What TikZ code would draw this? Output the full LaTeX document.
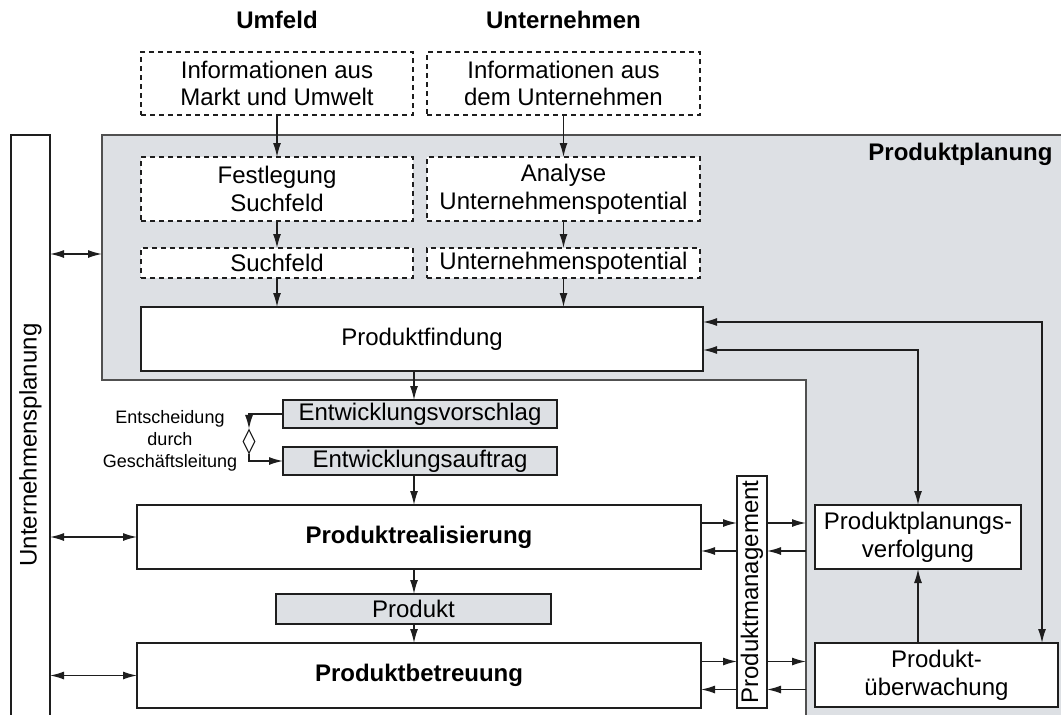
\documentclass[tikz,border=0pt]{standalone}
\usepackage{fontspec}
\setmainfont{Liberation Sans}
\usetikzlibrary{arrows.meta,shapes.geometric}

\definecolor{plangray}{RGB}{221,224,228}
\definecolor{linie}{RGB}{30,30,30}
\definecolor{randgrau}{RGB}{80,80,80}

\tikzset{
  box/.style={draw=linie, line width=1.4pt, fill=white, inner sep=0pt, outer sep=0pt,
    align=center, font=\fontsize{24}{27.7}\selectfont},
  strichbox/.style={box, dash pattern=on 5pt off 4pt},
  graubox/.style={box, fill=plangray},
  fett/.style={box, font=\bfseries\fontsize{24}{27.7}\selectfont},
  titel/.style={font=\bfseries\fontsize{24}{27.7}\selectfont},
  notiz/.style={align=center, font=\fontsize{18}{22}\selectfont},
  arr/.style={draw=linie, line width=1.4pt, -{Latex[length=14pt,width=8pt]}},
  dblarr/.style={draw=linie, line width=1.4pt, {Latex[length=14pt,width=8pt]}-{Latex[length=14pt,width=8pt]}},
}

\begin{document}
\begin{tikzpicture}[x=1pt,y=-1pt]
  \useasboundingbox (0,0) rectangle (1061,715);

  % grey area of the product planning
  \filldraw[fill=plangray, draw=randgrau, line width=1.4pt]
    (102,135) -- (1075,135) -- (1075,730) -- (806,730) -- (806,380) -- (102,380) -- cycle;
  \node[titel, anchor=east] (planung) at (1056,154) {Produktplanung};

  % Unternehmensplanung column
  \node[box, minimum width=39, minimum height=600] (uplan) at (30.5,435) {};
  \node[rotate=90, font=\fontsize{24}{27.7}\selectfont] (uplantext) at (30.5,445) {Unternehmensplanung};

  % column heads
  \node[titel] (umfeld) at (277,20) {Umfeld};
  \node[titel] (unternehmen) at (563.5,20) {Unternehmen};

  % information and search field
  \node[strichbox, minimum width=272, minimum height=63] (infoM) at (277,83.5) {Informationen aus\\Markt und Umwelt};
  \node[strichbox, minimum width=273, minimum height=63] (infoU) at (563.5,83.5) {Informationen aus\\dem Unternehmen};
  \node[strichbox, minimum width=272, minimum height=64] (festl) at (277,189) {Festlegung\\Suchfeld};
  \node[strichbox, minimum width=273, minimum height=64] (analyse) at (563.5,189) {Analyse\\Unternehmenspotential};
  \node[strichbox, minimum width=272, minimum height=30] (suchfeld) at (277,263) {Suchfeld};
  \node[strichbox, minimum width=273, minimum height=30] (potential) at (563.5,263) {Unternehmenspotential};
  \node[box, minimum width=562, minimum height=64] (findung) at (422,339) {Produktfindung};

  % development
  \node[graubox, minimum width=274, minimum height=28] (vorschlag) at (420,414) {Entwicklungsvorschlag};
  \node[graubox, minimum width=274, minimum height=28] (auftrag) at (420,461) {Entwicklungsauftrag};
  \node[diamond, draw=linie, line width=1.1pt, fill=white, inner sep=0pt,
    minimum width=12, minimum height=24] (raute) at (249,441.5) {};
  \node[notiz] (entscheidung) at (170,441) {Entscheidung\\durch\\Geschäftsleitung};

  % realisation and support
  \node[fett, minimum width=564, minimum height=64] (realis) at (419,537) {Produktrealisierung};
  \node[graubox, minimum width=275, minimum height=30] (produkt) at (413.5,609) {Produkt};
  \node[fett, minimum width=564, minimum height=65] (betreu) at (419,675.5) {Produktbetreuung};
  \node[box, rotate=90, minimum width=232, minimum height=30] (mgmt) at (752,592) {Produktmanagement};

  % right boxes
  \node[box, minimum width=206, minimum height=64] (verfolgung) at (918,537) {Produktplanungs-\\verfolgung};
  \node[box, minimum width=243, minimum height=64] (ueberw) at (936.5,675) {Produkt-\\überwachung};

  \coordinate (flow) at (414,0);
  \coordinate (rimL) at (102,254);
  \coordinate (rimR) at (806,0);
  \coordinate (rechts) at (1042,322);
  \coordinate (mitte) at (918,350);

  % top arrows
  \draw[arr] (infoM) -- (festl);
  \draw[arr] (infoU) -- (analyse);
  \draw[arr] (festl) -- (suchfeld);
  \draw[arr] (analyse) -- (potential);
  \draw[arr] (suchfeld.south) -- (suchfeld.south |- findung.north);
  \draw[arr] (potential.south) -- (potential.south |- findung.north);
  \draw[dblarr] (uplan.east |- rimL) -- (rimL);

  % main flow
  \draw[arr] (findung.south -| flow) -- (vorschlag.north -| flow);
  \draw[arr] (vorschlag.west) -| (raute.north);
  \draw[arr] (raute.south) |- (auftrag.west);
  \draw[arr] (auftrag.south -| flow) -- (realis.north -| flow);
  \draw[arr] (realis.south -| flow) -- (produkt.north -| flow);
  \draw[arr] (produkt.south -| flow) -- (betreu.north -| flow);
  \draw[dblarr] (uplan.east |- realis.west) -- (realis.west);
  \draw[dblarr] (uplan.east |- betreu.west) -- (betreu.west);

  % Produktmanagement in and out
  \draw[arr] ([yshift=14pt]realis.east) -- ([yshift=14pt]realis.east -| mgmt.north);
  \draw[arr] ([yshift=-14pt]realis.east -| mgmt.north) -- ([yshift=-14pt]realis.east);
  \draw[arr] ([yshift=14pt]realis.east -| mgmt.south) -- ([yshift=14pt]realis.east -| rimR);
  \draw[arr] ([yshift=-14pt]realis.east -| rimR) -- ([yshift=-14pt]realis.east -| mgmt.south);
  \draw[arr] ([yshift=14pt]betreu.east) -- ([yshift=14pt]betreu.east -| mgmt.north);
  \draw[arr] ([yshift=-14pt]betreu.east -| mgmt.north) -- ([yshift=-14pt]betreu.east);
  \draw[arr] ([yshift=14pt]betreu.east -| mgmt.south) -- ([yshift=14pt]betreu.east -| rimR);
  \draw[arr] ([yshift=-14pt]betreu.east -| rimR) -- ([yshift=-14pt]betreu.east -| mgmt.south);

  % feedback on the right
  \draw[dblarr] (findung.east |- rechts) -| (ueberw.north -| rechts);
  \draw[dblarr] (findung.east |- mitte) -| (verfolgung.north);
  \draw[arr] (ueberw.north -| verfolgung.south) -- (verfolgung.south);

\end{tikzpicture}
\end{document}
